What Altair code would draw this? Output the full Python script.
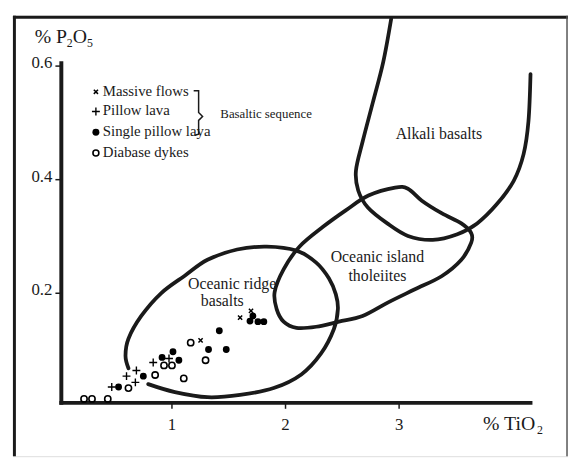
import altair as alt
import pandas as pd

# ---------------- data (TiO2 %, P2O5 %) ----------------
massive_x = [1.252, 1.600, 1.696]
massive_y = [0.117, 0.157, 0.169]

pillow_x = [0.470, 0.678, 0.600, 0.687, 0.835, 0.974]
pillow_y = [0.035, 0.043, 0.054, 0.064, 0.078, 0.085]

single_x = [0.530, 0.748, 0.913, 1.009, 1.061, 1.322, 1.417, 1.478, 1.687, 1.713, 1.757, 1.809]
single_y = [0.035, 0.054, 0.087, 0.097, 0.082, 0.101, 0.134, 0.101, 0.151, 0.160, 0.150, 0.150]

dyke_x = [0.226, 0.296, 0.435, 0.617, 0.852, 0.930, 1.000, 1.104, 1.165, 1.296]
dyke_y = [0.014, 0.014, 0.014, 0.033, 0.056, 0.073, 0.073, 0.050, 0.113, 0.082]

# field boundaries
ridge_x = [0.791, 1.026, 1.313, 1.600, 1.896, 2.139, 2.313, 2.426, 2.461, 2.443, 2.383,
           2.270, 2.096, 1.835, 1.574, 1.313, 1.113, 0.904, 0.730, 0.617, 0.591, 0.617]
ridge_y = [0.040, 0.026, 0.017, 0.021, 0.033, 0.057, 0.094, 0.137, 0.172, 0.198, 0.226,
           0.254, 0.275, 0.282, 0.277, 0.259, 0.231, 0.200, 0.160, 0.120, 0.090, 0.068]

oit_x = [2.730, 2.965, 3.078, 3.200, 3.374, 3.548, 3.635, 3.635, 3.548, 3.374, 3.139, 2.904,
         2.678, 2.470, 2.270, 2.096, 1.983, 1.922, 1.904, 1.983, 2.122, 2.330, 2.530]
oit_y = [0.372, 0.386, 0.384, 0.363, 0.341, 0.323, 0.306, 0.289, 0.259, 0.230, 0.207, 0.184,
         0.160, 0.150, 0.141, 0.139, 0.150, 0.172, 0.202, 0.242, 0.282, 0.317, 0.346]

alk_x = [2.930, 2.860, 2.770, 2.680, 2.620, 2.640, 2.725, 2.896, 3.078, 3.296, 3.513,
         3.687, 3.861, 4.009, 4.096, 4.139, 4.157]
alk_y = [0.683, 0.607, 0.537, 0.468, 0.416, 0.381, 0.351, 0.323, 0.301, 0.294, 0.304,
         0.323, 0.357, 0.398, 0.445, 0.503, 0.586]

x_ticks = [1, 2, 3]
y_ticks = [0.2, 0.4, 0.6]
x_tick_labels = ["1", "2", "3"]
y_tick_labels = ["0.2", "0.4", "0.6"]

field_labels = ["Alkali basalts", "Oceanic island", "tholeiites", "Oceanic ridge", "basalts"]
field_lx = [3.350, 2.809, 2.809, 1.530, 1.443]
field_ly = [0.480, 0.264, 0.230, 0.216, 0.186]

legend_labels = ["Massive flows", "Pillow lava", "Single pillow laya", "Diabase dykes"]

# ---------------- layout ----------------
W, H = 562, 446
FONT = "Liberation Serif, Times New Roman, serif"
INK = "#1a1a1a"
xs = alt.Scale(domain=[-0.4, 4.487], nice=False, zero=False)
ys = alt.Scale(domain=[-0.08696, 0.6887], nice=False, zero=False)


def X(f="x"):
    return alt.X(f"{f}:Q", scale=xs, axis=None)


def Y(f="y"):
    return alt.Y(f"{f}:Q", scale=ys, axis=None)


one = pd.DataFrame({"a": [0]})

layers = []

# outer frame (left, top, right)
layers.append(alt.Chart(one).mark_rule(color=INK, strokeWidth=3).encode(
    x=alt.value(1.5), y=alt.value(0), y2=alt.value(H)))
layers.append(alt.Chart(one).mark_rule(color=INK, strokeWidth=3).encode(
    x=alt.value(0), x2=alt.value(W), y=alt.value(1.5)))
layers.append(alt.Chart(one).mark_rule(color="#555", strokeWidth=1.5).encode(
    x=alt.value(W - 1), y=alt.value(0), y2=alt.value(H)))

# axes lines
layers.append(alt.Chart(one).mark_rule(color=INK, strokeWidth=4).encode(
    x=alt.value(49), y=alt.value(46), y2=alt.value(394)))
layers.append(alt.Chart(one).mark_rule(color=INK, strokeWidth=4).encode(
    x=alt.value(47), x2=alt.value(526), y=alt.value(392)))

# ticks
ydf = pd.DataFrame({"y": y_ticks, "t": y_tick_labels})
xdf = pd.DataFrame({"x": x_ticks, "t": x_tick_labels})
layers.append(alt.Chart(ydf).mark_rule(color=INK, strokeWidth=1.5).encode(
    y=Y(), x=alt.value(43), x2=alt.value(49)))
layers.append(alt.Chart(ydf).mark_text(font=FONT, fontSize=17, align="right",
                                       baseline="alphabetic", dy=2, color=INK).encode(
    y=Y(), x=alt.value(40), text="t:N"))
layers.append(alt.Chart(xdf).mark_rule(color=INK, strokeWidth=1.5).encode(
    x=X(), y=alt.value(392), y2=alt.value(398)))
layers.append(alt.Chart(xdf).mark_text(font=FONT, fontSize=17, align="center",
                                       baseline="alphabetic", color=INK).encode(
    x=X(), y=alt.value(419), text="t:N"))


# axis titles with subscripts
def txt(s, px, py, size, align="left", base="alphabetic"):
    return alt.Chart(one).mark_text(text=s, font=FONT, fontSize=size, align=align,
                                    baseline=base, color=INK).encode(
        x=alt.value(px), y=alt.value(py))


layers += [
    txt("% TiO", 476, 419, 20),
    txt("2", 530.5, 423, 12),
    txt("% P", 22, 28, 20),
    txt("2", 54.5, 32, 12),
    txt("O", 60.5, 28, 20),
    txt("5", 75, 32, 12),
]


# field boundaries
def curve(xv, yv, interp):
    df = pd.DataFrame({"x": xv, "y": yv, "i": list(range(len(xv)))})
    return alt.Chart(df).mark_line(color=INK, strokeWidth=3.8, interpolate=interp,
                                   strokeCap="round", strokeJoin="round").encode(
        x=X(), y=Y(), order=alt.Order("i:Q"))


layers.append(curve(ridge_x, ridge_y, "cardinal"))
layers.append(curve(oit_x, oit_y, "cardinal-closed"))
layers.append(curve(alk_x, alk_y, "cardinal"))

# field labels
fdf = pd.DataFrame({"x": field_lx, "y": field_ly, "t": field_labels})
layers.append(alt.Chart(fdf).mark_text(font=FONT, fontSize=16, align="center",
                                       baseline="middle", color=INK).encode(
    x=X(), y=Y(), text="t:N"))

# symbols
XSHAPE = "M-1,-1L1,1M-1,1L1,-1"
PSHAPE = "M-1,0L1,0M0,-1L0,1"


def pts(xv, yv, shape, filled, size, sw=1.5):
    df = pd.DataFrame({"x": xv, "y": yv})
    return alt.Chart(df).mark_point(shape=shape, filled=filled, size=size, opacity=1,
                                    strokeWidth=sw, color="black").encode(x=X(), y=Y())


layers.append(pts(dyke_x, dyke_y, "circle", False, 40, 1.6))
layers.append(pts(single_x, single_y, "circle", True, 48, 0))
layers.append(pts(pillow_x, pillow_y, PSHAPE, False, 64, 1.4))
layers.append(pts(massive_x, massive_y, XSHAPE, False, 18, 1.5))

# legend
leg_y = [77, 97, 118, 139]
leg_shapes = [(XSHAPE, False, 18, 1.5), (PSHAPE, False, 64, 1.4),
              ("circle", True, 50, 0), ("circle", False, 36, 1.6)]
for yy, (shp, fil, sz, sw) in zip(leg_y, leg_shapes):
    layers.append(alt.Chart(one).mark_point(shape=shp, filled=fil, size=sz, opacity=1,
                                            strokeWidth=sw, color="black").encode(
        x=alt.value(84), y=alt.value(yy)))
for yy, lab in zip(leg_y, legend_labels):
    layers.append(txt(lab, 91, yy - 1, 15, base="middle"))

# brace
bdf = pd.DataFrame({"bx": [183, 188, 188, 192, 188, 188, 184],
                    "by": [76, 76, 98, 102, 106, 120, 121],
                    "i": list(range(7))})
layers.append(alt.Chart(bdf).mark_line(color=INK, strokeWidth=1.5).encode(
    x=alt.X("bx:Q", scale=None), y=alt.Y("by:Q", scale=None), order=alt.Order("i:Q")))
layers.append(txt("Basaltic sequence", 210, 100, 13, base="middle"))

chart = alt.layer(*layers).properties(
    width=W, height=H,
    autosize=alt.AutoSizeParams(type="none"),
    padding={"left": 5, "top": 5, "right": 0, "bottom": 0},
).configure_view(stroke=None).configure(background="white")

chart.save("out.html", embed_options={"renderer": "svg", "actions": False})
